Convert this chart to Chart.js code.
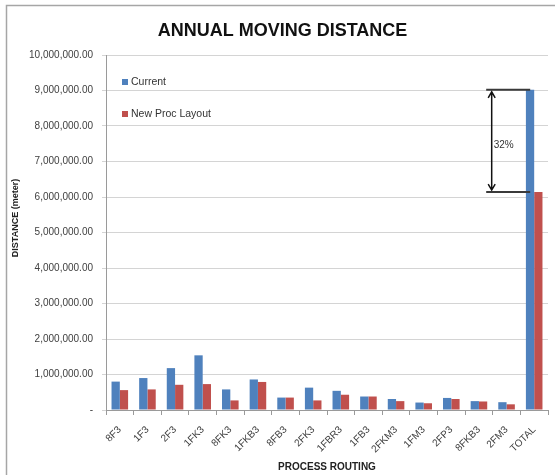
<!DOCTYPE html>
<html><head><meta charset="utf-8">
<style>html,body{margin:0;padding:0;background:#fff;overflow:hidden;}</style>
<script src="https://cdn.jsdelivr.net/npm/chart.js@4.4.1/dist/chart.umd.min.js"></script>
</head><body>
<canvas id="c" width="555" height="475" style="display:block;width:555px;height:475px"></canvas>
<script>
const categories = ['8F3','1F3','2F3','1FK3','8FK3','1FKB3','8FB3','2FK3','1FBR3','1FB3','2FKM3','1FM3','2FP3','8FKB3','2FM3','TOTAL'];
const currentValues = [800000, 900000, 1180000, 1540000, 580000, 860000, 350000, 630000, 540000, 380000, 310000, 210000, 340000, 250000, 220000, 9020000];
const newLayoutValues = [560000, 580000, 710000, 730000, 270000, 790000, 350000, 270000, 430000, 380000, 250000, 190000, 310000, 240000, 160000, 6140000];
const seriesNames = ['Current', 'New Proc Layout'];
const seriesColors = ['#4F81BD', '#C0504D'];
const yTickLabels = ['-', '1,000,000.00', '2,000,000.00', '3,000,000.00', '4,000,000.00', '5,000,000.00', '6,000,000.00', '7,000,000.00', '8,000,000.00', '9,000,000.00', '10,000,000.00'];
const chartTitle = 'ANNUAL MOVING DISTANCE';
const yAxisTitle = 'DISTANCE (meter)';
const xAxisTitle = 'PROCESS ROUTING';
const reductionLabel = '32%';

const FONT = "'Liberation Sans', Arial, sans-serif";
const TEXT = '#333333';

const framePlugin = {
  id: 'frame',
  beforeDraw(chart) {
    const ctx = chart.ctx;
    ctx.save();
    ctx.strokeStyle = '#a6a6a6';
    ctx.lineWidth = 1.5;
    ctx.beginPath();
    ctx.moveTo(6.5, 475);
    ctx.lineTo(6.5, 5.5);
    ctx.lineTo(555, 5.5);
    ctx.stroke();
    ctx.restore();
  }
};

const legendPlugin = {
  id: 'insideLegend',
  afterDraw(chart) {
    const ctx = chart.ctx;
    const a = chart.chartArea;
    ctx.save();
    ctx.font = '10.5px ' + FONT;
    ctx.textBaseline = 'middle';
    ctx.textAlign = 'left';
    chart.data.datasets.forEach((ds, i) => {
      const y = a.top + 27 + i * 32;
      ctx.fillStyle = ds.backgroundColor;
      ctx.fillRect(a.left + 16, y - 3, 6, 6);
      ctx.fillStyle = TEXT;
      ctx.fillText(ds.label, a.left + 25, y + 0.5);
    });
    ctx.restore();
  }
};

const yTitlePlugin = {
  id: 'yTitle',
  afterDraw(chart) {
    const ctx = chart.ctx;
    ctx.save();
    ctx.translate(16, 218);
    ctx.rotate(-Math.PI / 2);
    ctx.font = 'bold 9px ' + FONT;
    ctx.fillStyle = '#222';
    ctx.textAlign = 'center';
    ctx.textBaseline = 'middle';
    ctx.fillText(yAxisTitle, 0, 0);
    ctx.restore();
  }
};

const annotationPlugin = {
  id: 'reductionArrow',
  afterDatasetsDraw(chart) {
    const ctx = chart.ctx;
    const xs = chart.scales.x, ys = chart.scales.y;
    const idx = categories.length - 1;
    const xc = xs.getPixelForValue(idx);
    const yTop = ys.getPixelForValue(currentValues[idx]);
    const yBot = ys.getPixelForValue(newLayoutValues[idx]);
    ctx.save();
    ctx.strokeStyle = '#3a3a3a';
    ctx.lineWidth = 2;
    ctx.beginPath();
    ctx.moveTo(xc - 48, yTop); ctx.lineTo(xc - 4, yTop);
    ctx.moveTo(xc - 48, yBot); ctx.lineTo(xc - 4, yBot);
    ctx.stroke();
    const ax = xc - 42.5;
    ctx.lineWidth = 1.5;
    ctx.strokeStyle = '#111';
    ctx.beginPath();
    ctx.moveTo(ax, yTop + 2); ctx.lineTo(ax, yBot - 2);
    ctx.moveTo(ax - 3.5, yTop + 8); ctx.lineTo(ax, yTop + 2); ctx.lineTo(ax + 3.5, yTop + 8);
    ctx.moveTo(ax - 3.5, yBot - 8); ctx.lineTo(ax, yBot - 2); ctx.lineTo(ax + 3.5, yBot - 8);
    ctx.stroke();
    ctx.font = '10px ' + FONT;
    ctx.fillStyle = TEXT;
    ctx.textAlign = 'left';
    ctx.textBaseline = 'middle';
    ctx.fillText(reductionLabel, ax + 2, (yTop + yBot) / 2 + 4);
    ctx.restore();
  }
};

new Chart(document.getElementById('c'), {
  type: 'bar',
  data: {
    labels: categories,
    datasets: [
      { label: seriesNames[0], data: currentValues, backgroundColor: seriesColors[0] },
      { label: seriesNames[1], data: newLayoutValues, backgroundColor: seriesColors[1] }
    ]
  },
  options: {
    responsive: false,
    animation: false,
    devicePixelRatio: 1,
    layout: { padding: { left: 17, right: 7, top: 0, bottom: 0 } },
    datasets: { bar: { categoryPercentage: 0.6, barPercentage: 1.0 } },
    plugins: {
      legend: { display: false },
      tooltip: { enabled: false },
      title: {
        display: true,
        text: chartTitle,
        color: '#111',
        font: { family: FONT, size: 18, weight: 'bold', lineHeight: 1.2 },
        padding: { top: 20, bottom: 13.4 }
      }
    },
    scales: {
      x: {
        grid: { display: true, drawOnChartArea: false, drawTicks: true, tickLength: 5, color: '#9a9a9a', offset: true },
        border: { color: '#9a9a9a', width: 1 },
        ticks: { color: '#404040', font: { family: FONT, size: 10 }, minRotation: 45, maxRotation: 45, padding: 9, autoSkip: false },
        title: { display: true, text: xAxisTitle, color: '#222', font: { family: FONT, size: 10, weight: 'bold', lineHeight: 1.2 }, padding: { top: 0, bottom: 2 } },
        afterFit(scale) { scale.height = 65; }
      },
      y: {
        min: 0, max: 10000000,
        grid: { color: '#d4d4d4', tickLength: 4, drawTicks: true },
        border: { color: '#9a9a9a', width: 1 },
        ticks: {
          stepSize: 1000000,
          color: '#404040',
          font: { family: FONT, size: 10 },
          padding: 9,
          callback(value, index) { return yTickLabels[index]; }
        },
        afterFit(scale) { scale.width = 89; }
      }
    }
  },
  plugins: [framePlugin, legendPlugin, yTitlePlugin, annotationPlugin]
});
</script>
</body></html>
